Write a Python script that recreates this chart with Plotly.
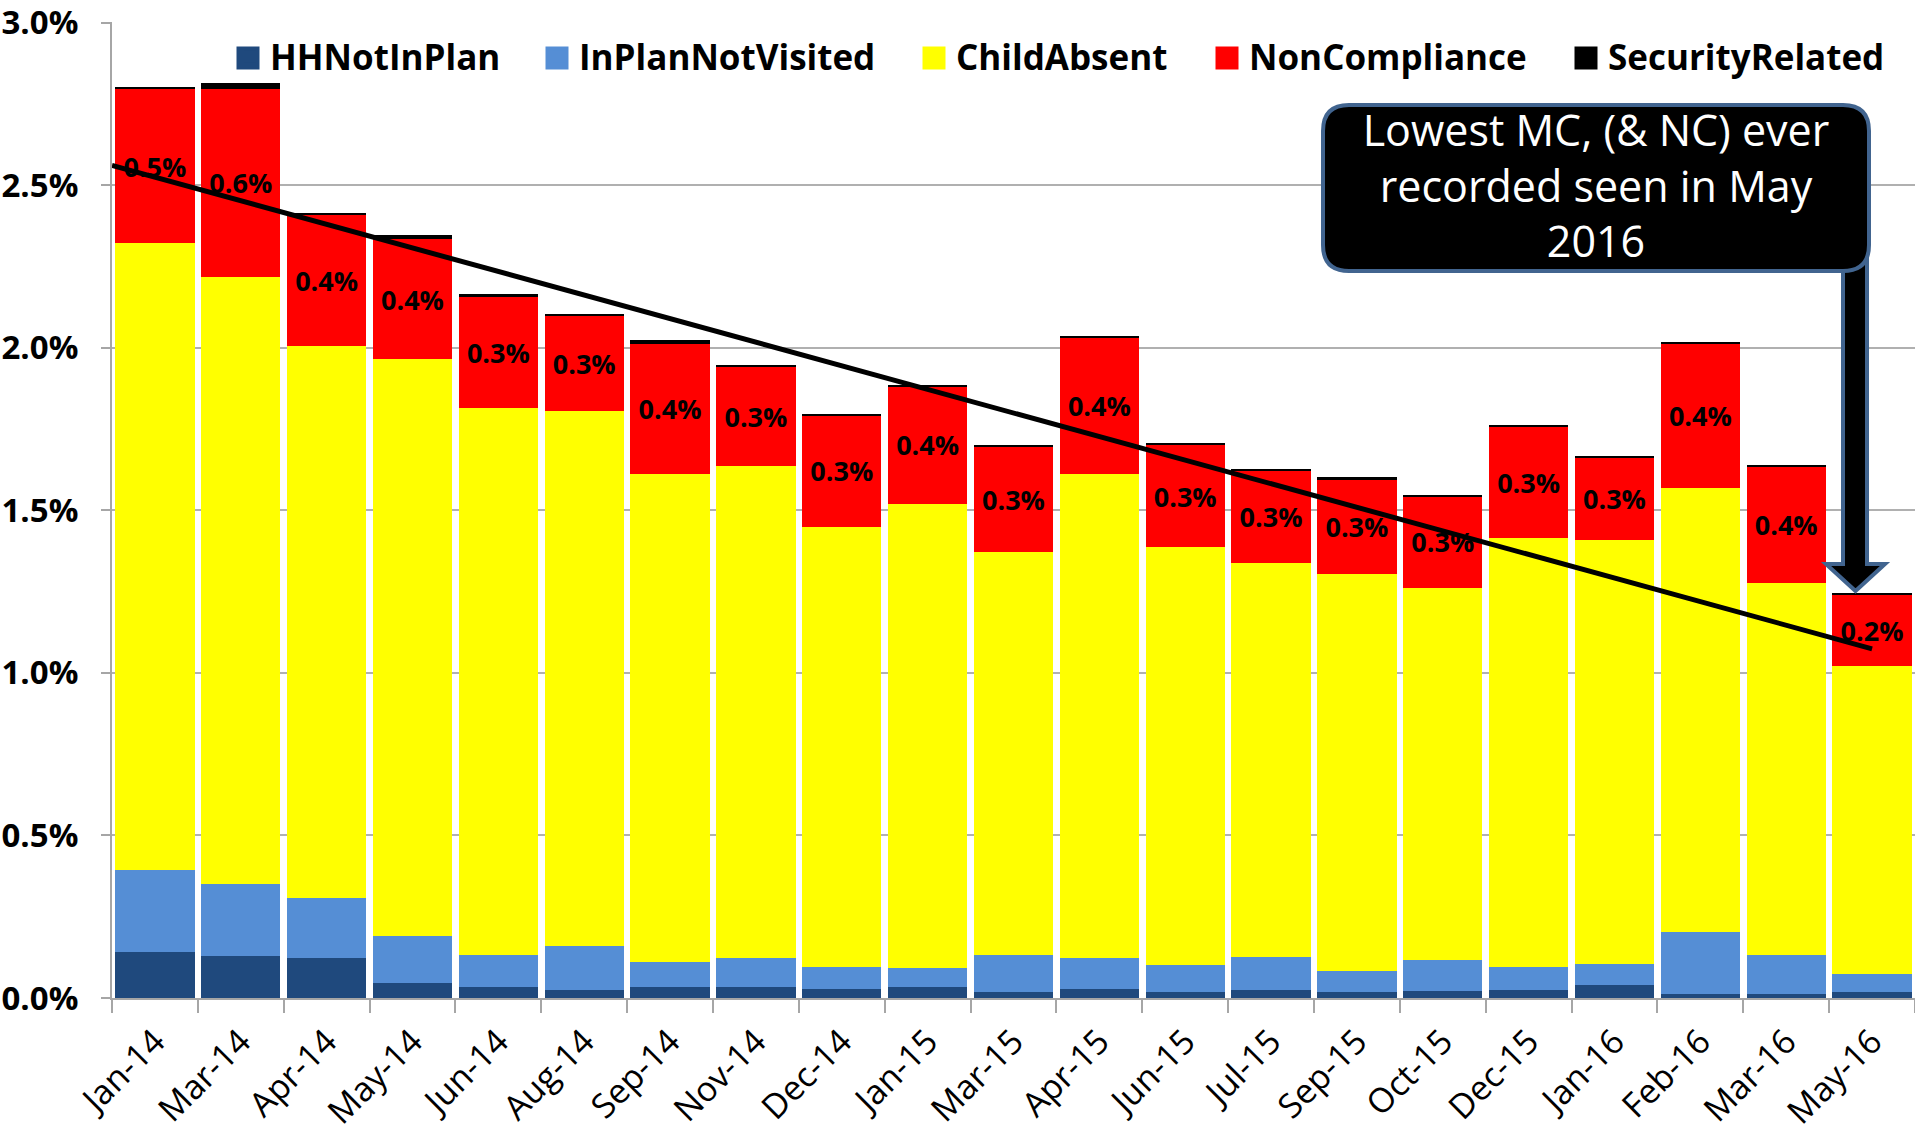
import plotly.graph_objects as go

categories = ['Jan-14', 'Mar-14', 'Apr-14', 'May-14', 'Jun-14', 'Aug-14', 'Sep-14',
              'Nov-14', 'Dec-14', 'Jan-15', 'Mar-15', 'Apr-15', 'Jun-15', 'Jul-15',
              'Sep-15', 'Oct-15', 'Dec-15', 'Jan-16', 'Feb-16', 'Mar-16', 'May-16']

# values in percent
hh_not_in_plan = [0.143, 0.128, 0.123, 0.045, 0.033, 0.026, 0.033, 0.033, 0.029, 0.033, 0.017,
                  0.029, 0.017, 0.025, 0.017, 0.022, 0.025, 0.041, 0.013, 0.013, 0.017]
in_plan_not_visited = [0.251, 0.223, 0.184, 0.146, 0.098, 0.133, 0.078, 0.090, 0.066, 0.058, 0.114,
                       0.094, 0.083, 0.102, 0.067, 0.094, 0.071, 0.064, 0.189, 0.118, 0.056]
child_absent = [1.927, 1.868, 1.698, 1.773, 1.683, 1.647, 1.500, 1.514, 1.355, 1.430, 1.240,
                1.488, 1.286, 1.210, 1.219, 1.146, 1.320, 1.303, 1.368, 1.146, 0.948]
non_compliance = [0.476, 0.578, 0.406, 0.372, 0.342, 0.294, 0.402, 0.304, 0.342, 0.360, 0.326,
                  0.421, 0.315, 0.285, 0.293, 0.282, 0.342, 0.256, 0.443, 0.357, 0.219]
security_related = [0.006, 0.016, 0.005, 0.010, 0.008, 0.005, 0.012, 0.006, 0.004, 0.006, 0.005,
                    0.005, 0.005, 0.004, 0.005, 0.004, 0.004, 0.004, 0.004, 0.006, 0.005]

trend_start_end = [2.561, 1.074]

y_ticks = [0.0, 0.5, 1.0, 1.5, 2.0, 2.5, 3.0]

note_lines = ['Lowest MC, (&amp; NC) ever', 'recorded seen in May', '2016']

idx = list(range(len(categories)))

FONT = 'Open Sans'
W, H = 1915, 1132
ML, MR, MT, MB = 112, 0, 22, 134
PW, PH = W - ML - MR, H - MT - MB


def px(x):
    return (x - ML) / PW


def py(y):
    return (H - MB - y) / PH


series = [
    ('HHNotInPlan', hh_not_in_plan, '#1F497D'),
    ('InPlanNotVisited', in_plan_not_visited, '#558ED5'),
    ('ChildAbsent', child_absent, '#FFFF00'),
    ('NonCompliance', non_compliance, '#FF0000'),
    ('SecurityRelated', security_related, '#000000'),
]
legend_text_x = [271, 580, 957, 1250, 1609]   # pixel position of each legend entry text
legend_ids = ['legend', 'legend2', 'legend3', 'legend4', 'legend5']

fig = go.Figure()
for (name, vals, col), lid in zip(series, legend_ids):
    kw = {}
    if name == 'NonCompliance':
        kw = dict(texttemplate='%{y:.1f}%', textposition='inside', insidetextanchor='middle',
                  textangle=0, constraintext='none',
                  textfont=dict(family=FONT, size=27, color='black', weight='bold'))
    fig.add_trace(go.Bar(x=idx, y=vals, name=name, legend=lid,
                         marker=dict(color=col, line=dict(width=0)),
                         hoverinfo='x+y+name', **kw))

fig.add_trace(go.Scatter(x=[idx[0] - 0.5, idx[-1]], y=trend_start_end, mode='lines',
                         line=dict(color='black', width=5), showlegend=False, hoverinfo='skip'))

# larger legend swatches
for (name, vals, col), tx in zip(series, legend_text_x):
    cx, cy, s = tx - 23, 58, 11.5
    fig.add_shape(type='rect', xref='paper', yref='paper',
                  x0=px(cx - s), x1=px(cx + s), y0=py(cy + s), y1=py(cy - s),
                  fillcolor=col, line=dict(width=0))

# block arrow
sx0, sx1, ytop, ybase, hx0, hx1, tipx, tipy = 1843, 1867, 250, 564, 1826, 1885, 1855.5, 591
arrow = (f"M {px(sx0)},{py(ytop)} L {px(sx1)},{py(ytop)} L {px(sx1)},{py(ybase)} "
         f"L {px(hx1)},{py(ybase)} L {px(tipx)},{py(tipy)} L {px(hx0)},{py(ybase)} "
         f"L {px(sx0)},{py(ybase)} Z")
fig.add_shape(type='path', path=arrow, xref='paper', yref='paper',
              fillcolor='black', line=dict(color='#41648F', width=4))
# callout box with rounded corners
bx0, bx1, by0, by1, r = 1323, 1869, 105, 271, 26
box = (f"M {px(bx0 + r)},{py(by0)} L {px(bx1 - r)},{py(by0)} "
       f"Q {px(bx1)},{py(by0)} {px(bx1)},{py(by0 + r)} "
       f"L {px(bx1)},{py(by1 - r)} Q {px(bx1)},{py(by1)} {px(bx1 - r)},{py(by1)} "
       f"L {px(bx0 + r)},{py(by1)} Q {px(bx0)},{py(by1)} {px(bx0)},{py(by1 - r)} "
       f"L {px(bx0)},{py(by0 + r)} Q {px(bx0)},{py(by0)} {px(bx0 + r)},{py(by0)} Z")
fig.add_shape(type='path', path=box, xref='paper', yref='paper',
              fillcolor='black', line=dict(color='#41648F', width=4),
              label=dict(text='<br>'.join(note_lines), textposition='middle center',
                         font=dict(family=FONT, size=43, color='white')))

legend_common = dict(orientation='h', xanchor='left', yanchor='middle', y=py(57),
                     bgcolor='rgba(0,0,0,0)',
                     font=dict(family=FONT, size=35, color='black', weight='bold'))
legend_layout = {lid: dict(x=px(tx - 41), **legend_common)
                 for lid, tx in zip(legend_ids, legend_text_x)}

fig.update_layout(
    width=W, height=H,
    margin=dict(l=ML, r=MR, t=MT, b=MB, pad=0),
    barmode='stack', bargap=0.075,
    plot_bgcolor='white', paper_bgcolor='white',
    font=dict(family=FONT, color='black'),
    xaxis=dict(range=[-0.5, len(categories) - 0.5], tickmode='array', tickvals=idx,
               ticktext=categories, tickangle=-45, ticks='', showgrid=False,
               showline=True, linecolor='#A6A6A6', linewidth=2, zeroline=False,
               ticklabelstandoff=8, automargin=False,
               tickfont=dict(family=FONT, size=34, color='black'),
               minor=dict(tickmode='array', tickvals=[i - 0.5 for i in idx] + [idx[-1] + 0.5],
                          ticks='outside', ticklen=13, tickwidth=2, tickcolor='#A6A6A6',
                          showgrid=False)),
    yaxis=dict(range=[0, 3.002], tickmode='array', tickvals=y_ticks,
               ticktext=[f'{v:.1f}%' for v in y_ticks], automargin=False,
               ticklabeloverflow='allow',
               showgrid=True, gridcolor='#B0B0B0', gridwidth=2, zeroline=False,
               showline=True, linecolor='#A6A6A6', linewidth=2,
               ticks='outside', ticklen=9, tickwidth=2, tickcolor='#A6A6A6',
               ticklabelstandoff=16,
               tickfont=dict(family=FONT, size=33, color='black', weight='bold')),
    **legend_layout,
)

fig.write_html('out.html', config={'displayModeBar': False},
               post_script="document.body.style.margin='0';document.body.style.overflow='hidden';")
